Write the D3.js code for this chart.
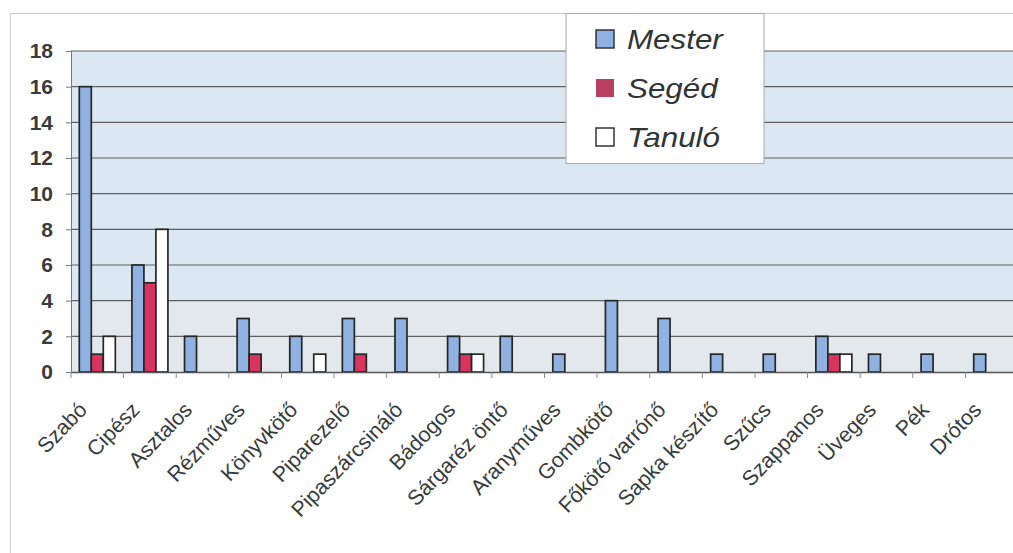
<!DOCTYPE html>
<html><head><meta charset="utf-8">
<script src="https://cdn.jsdelivr.net/npm/d3@7"></script>
<style>body{margin:0;background:#fff}svg{display:block}</style>
</head><body>
<svg id="c" width="1013" height="553"></svg>
<script>
const categories = ["Szabó","Cipész","Asztalos","Rézműves","Könyvkötő","Piparezelő","Pipaszárcsináló","Bádogos","Sárgaréz öntő","Aranyműves","Gombkötő","Főkötő varrónő","Sapka készítő","Szűcs","Szappanos","Üveges","Pék","Drótos"];
const mester = [16,6,2,3,2,3,3,2,2,1,4,3,1,1,2,1,1,1];
const seged  = [1,5,0,1,0,1,0,1,0,0,0,0,0,0,1,0,0,0];
const tanulo = [2,8,0,0,1,0,0,1,0,0,0,0,0,0,1,0,0,0];
const seriesNames = ["Mester","Segéd","Tanuló"];
const seriesColors = ["#8fb2e3","#d8345f","#ffffff"];
const yTicks = [0,2,4,6,8,10,12,14,16,18];

const svg = d3.select("#c");
const pL = 71, pR = 1018, pT = 51, pB = 372;
const FONT = "Liberation Sans, Arial, sans-serif";
// outer frame
svg.append("line").attr("x1",10).attr("x2",1013).attr("y1",13.5).attr("y2",13.5).attr("stroke","#c8c8c8");
svg.append("line").attr("x1",10.5).attr("x2",10.5).attr("y1",13).attr("y2",553).attr("stroke","#d0d0d0");

const x = d3.scaleBand().domain(categories).range([pL,pR]);
const y = d3.scaleLinear().domain([0,18]).range([pB,pT]);
const inner = d3.scaleBand().domain(seriesNames).range([0,36]);
const pad = (x.bandwidth()-36)/2;

// plot background
svg.append("rect").attr("x",pL).attr("y",pT).attr("width",pR-pL).attr("height",pB-pT).attr("fill","#dbe8f1");
svg.append("rect").attr("x",pL).attr("y",y(4)).attr("width",pR-pL).attr("height",pB-y(4)).attr("fill","#e2e8eb");
// gridlines
svg.append("g").selectAll("line").data(yTicks.slice(1)).join("line")
  .attr("x1",pL).attr("x2",pR).attr("y1",d=>y(d)).attr("y2",d=>y(d))
  .attr("stroke","#606060").attr("stroke-width",1.2);

// y axis
const ya = svg.append("g").attr("transform",`translate(${pL},0)`)
  .call(d3.axisLeft(y).tickValues(yTicks).tickSize(5).tickPadding(13));
ya.select(".domain").attr("stroke","#777");
ya.selectAll(".tick line").attr("stroke","#777");
ya.selectAll("text").attr("font-family",FONT).attr("font-size",21).attr("font-weight","bold").attr("fill","#3a3a3a");

// bars
const data = [mester,seged,tanulo];
data.forEach((vals,si)=>{
  svg.append("g").selectAll("rect").data(vals).join("rect")
    .attr("x",(d,i)=>x(categories[i])+pad+inner(seriesNames[si]))
    .attr("width",inner.bandwidth())
    .attr("y",d=>y(d)).attr("height",d=>pB-y(d))
    .attr("fill",seriesColors[si]).attr("stroke","#262626").attr("stroke-width",1.7);
});

// x axis
const xa = svg.append("g").attr("transform",`translate(0,${pB})`)
  .call(d3.axisBottom(x).tickSize(0).tickFormat(""));
xa.select(".domain").attr("stroke","#555").attr("stroke-width",1.6);
svg.append("g").selectAll("line").data(categories.map(c=>x(c)).concat([pR])).join("line")
  .attr("x1",d=>d).attr("x2",d=>d).attr("y1",pB).attr("y2",pB+6).attr("stroke","#888");
svg.append("g").selectAll("text").data(categories).join("text")
  .attr("transform",d=>`translate(${x(d)+x.bandwidth()/2-9},${pB+39}) rotate(-46)`)
  .attr("text-anchor","end")
  .attr("font-family",FONT).attr("font-size",21.3).attr("fill","#363c3c")
  .text(d=>d);

// legend
const lg = svg.append("g");
lg.append("rect").attr("x",566).attr("y",13.5).attr("width",198).attr("height",150).attr("fill","#fff").attr("stroke","#aaa");
seriesNames.forEach((n,i)=>{
  const by = 49 + i*49;
  lg.append("rect").attr("x",596).attr("y",by-19).attr("width",18).attr("height",18)
    .attr("fill",i==1?"#b8405e":seriesColors[i]).attr("stroke",i==1?"none":"#333").attr("stroke-width",1.5);
  lg.append("text").attr("transform",`translate(627,${by}) scale(1.12,1)`).text(n)
    .attr("font-family",FONT).attr("font-size",28).attr("font-style","italic").attr("fill","#2f3535");
});
</script>
</body></html>
